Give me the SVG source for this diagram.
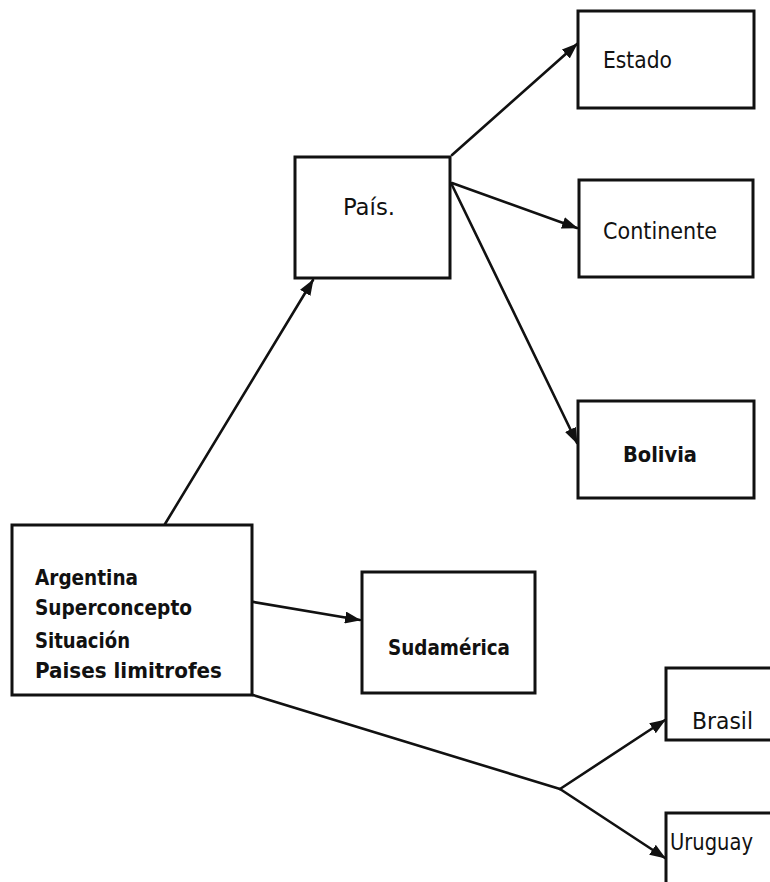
<svg xmlns="http://www.w3.org/2000/svg" width="770" height="882" viewBox="0 0 770 882">
  <style>
    .box { fill: #ffffff; stroke: #111111; stroke-width: 3; }
    .edge { fill: none; stroke: #111111; stroke-width: 2.6; stroke-linecap: round; stroke-linejoin: round; }
    .lbl { font-family: "DejaVu Sans Condensed", "DejaVu Sans", sans-serif; font-size: 23px; fill: #111111; }
    .bold { font-weight: bold; font-size: 22px; }
  </style>
  <defs>
    <marker id="head" markerUnits="userSpaceOnUse" markerWidth="16" markerHeight="12" refX="15" refY="6" orient="auto">
      <path d="M0,0 L16,6 L0,12 Z" fill="#111111"/>
    </marker>
  </defs>

  <rect x="0" y="0" width="770" height="882" fill="#ffffff"/>

  <!-- connectors -->
  <g id="connectors">
    <line class="edge" x1="165" y1="524" x2="313" y2="280" marker-end="url(#head)"/>
    <line class="edge" x1="452" y1="155" x2="577" y2="44" marker-end="url(#head)"/>
    <line class="edge" x1="452" y1="183" x2="577" y2="228" marker-end="url(#head)"/>
    <line class="edge" x1="452" y1="185" x2="577" y2="443" marker-end="url(#head)"/>
    <line class="edge" x1="230" y1="598" x2="360" y2="620" marker-end="url(#head)"/>
    <polyline class="edge" points="253,695 560,789"/>
    <line class="edge" x1="560" y1="789" x2="665" y2="720" marker-end="url(#head)"/>
    <line class="edge" x1="560" y1="789" x2="665" y2="858" marker-end="url(#head)"/>
  </g>

  <!-- nodes -->
  <g id="estado">
    <rect class="box" x="578" y="11" width="176" height="97"/>
    <text class="lbl" x="603" y="68" textLength="69" lengthAdjust="spacingAndGlyphs">Estado</text>
  </g>
  <g id="pais">
    <rect class="box" x="295" y="157" width="155" height="121"/>
    <text class="lbl" x="343" y="215" textLength="52" lengthAdjust="spacingAndGlyphs">País.</text>
  </g>
  <g id="continente">
    <rect class="box" x="579" y="180" width="174" height="97"/>
    <text class="lbl" x="603" y="239" textLength="114" lengthAdjust="spacingAndGlyphs">Continente</text>
  </g>
  <g id="bolivia">
    <rect class="box" x="578" y="401" width="176" height="97"/>
    <text class="lbl bold" x="623" y="462" textLength="74" lengthAdjust="spacingAndGlyphs">Bolivia</text>
  </g>
  <g id="argentina">
    <rect class="box" x="12" y="525" width="240" height="170"/>
    <text class="lbl bold" x="35" y="585" textLength="103" lengthAdjust="spacingAndGlyphs">Argentina</text>
    <text class="lbl bold" x="35" y="615" textLength="157" lengthAdjust="spacingAndGlyphs">Superconcepto</text>
    <text class="lbl bold" x="35" y="648" textLength="95" lengthAdjust="spacingAndGlyphs">Situación</text>
    <text class="lbl bold" x="35" y="678" textLength="187" lengthAdjust="spacingAndGlyphs">Paises limitrofes</text>
  </g>
  <g id="sudamerica">
    <rect class="box" x="362" y="572" width="173" height="121"/>
    <text class="lbl bold" x="388" y="655" textLength="122" lengthAdjust="spacingAndGlyphs">Sudamérica</text>
  </g>
  <g id="brasil">
    <rect class="box" x="666" y="668" width="110" height="72"/>
    <text class="lbl" x="692" y="729" textLength="61" lengthAdjust="spacingAndGlyphs">Brasil</text>
  </g>
  <g id="uruguay">
    <rect class="box" x="666" y="813" width="110" height="80"/>
    <text class="lbl" x="670" y="850" textLength="83" lengthAdjust="spacingAndGlyphs">Uruguay</text>
  </g>
</svg>
